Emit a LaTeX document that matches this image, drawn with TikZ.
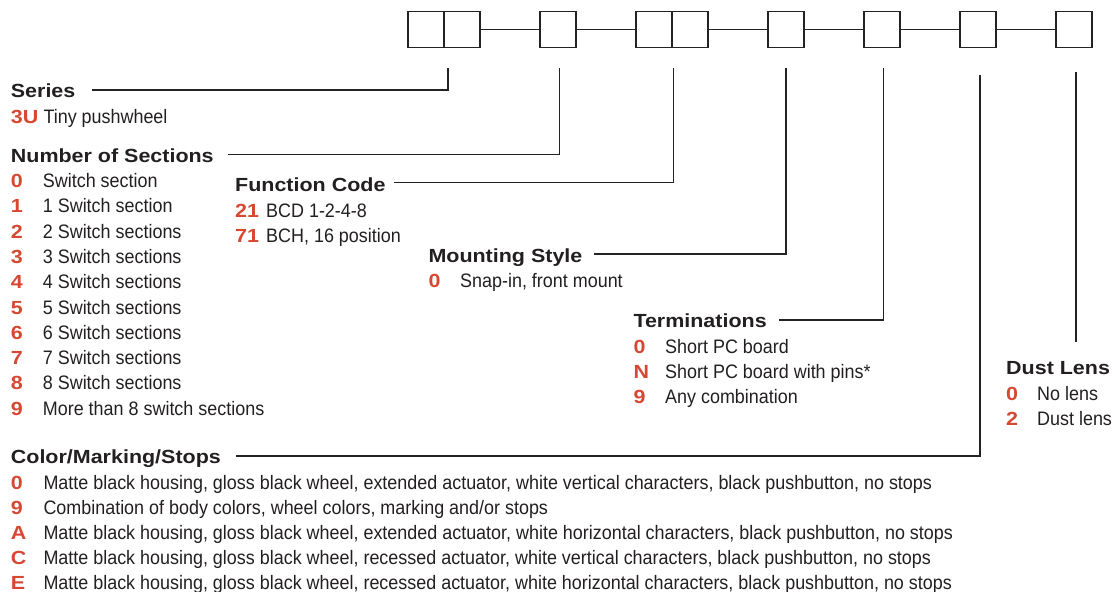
\documentclass[tikz,border=0pt]{standalone}
\usepackage{fontspec}
\setmainfont{Liberation Sans}[FakeStretch=0.92]
\newfontfamily\headfont{Liberation Sans}[FakeStretch=1.13]
\definecolor{codered}{RGB}{214,72,50}
\definecolor{ink}{RGB}{35,31,32}
\definecolor{rule}{RGB}{35,35,35}
\begin{document}
\begin{tikzpicture}[x=1pt,y=-1pt,
  cell/.style={draw=rule,line width=1.5pt,minimum width=36pt,minimum height=36pt,inner sep=0pt,outer sep=0pt},
  link/.style={draw=rule,line width=1.4pt},
  lead/.style={draw=rule,line width=1.4pt},
  head/.style={anchor=base west,inner sep=0pt,text=ink,font=\headfont\bfseries\fontsize{19}{22}\selectfont},
  code/.style={anchor=base west,inner sep=0pt,text=codered,font=\headfont\bfseries\fontsize{19}{22}\selectfont},
  desc/.style={anchor=base west,inner sep=0pt,text=ink,font=\fontsize{19.5}{22}\selectfont}]
\useasboundingbox (0,0) rectangle (1112,592);
% boxes
\node[cell] (b1) at (426,29.7) {};
\node[cell] (b2) at (462,29.7) {};
\node[cell] (b3) at (558,29.7) {};
\node[cell] (b4) at (654,29.7) {};
\node[cell] (b5) at (690,29.7) {};
\node[cell] (b6) at (786,29.7) {};
\node[cell] (b7) at (882,29.7) {};
\node[cell] (b8) at (978,29.7) {};
\node[cell] (b9) at (1074,29.7) {};
\draw[link] (b2.east) -- (b3.west);
\draw[link] (b3.east) -- (b4.west);
\draw[link] (b5.east) -- (b6.west);
\draw[link] (b6.east) -- (b7.west);
\draw[link] (b7.east) -- (b8.west);
\draw[link] (b8.east) -- (b9.west);
% Series
\node[head] (hser) at (10.7,97.3) {Series};
\node[code] (c3u) at (10.7,123.3) {3U};
\node[desc] (d3u) at (43.3,123.3) {Tiny pushwheel};
\coordinate (sA) at (92,90); \coordinate (sB) at (448,68);
\draw[lead] (sA) -| (sB);
% Number of sections
\node[head] (hsec) at (10.7,162.7) {Number of Sections};
\foreach \c/\t [count=\i from 0] in {0/Switch section,1/1 Switch section,2/2 Switch sections,3/3 Switch sections,4/4 Switch sections,5/5 Switch sections,6/6 Switch sections,7/7 Switch sections,8/8 Switch sections,9/More than 8 switch sections}{
  \node[code] (nc\i) at (10.7,187.5+25.3*\i) {\c};
  \node[desc] (nd\i) at (42.7,187.5+25.3*\i) {\t};
}
\coordinate (nA) at (228,154.3); \coordinate (nB) at (559.7,68);
\draw[lead] (nA) -| (nB);
% Function code
\node[head] (hfun) at (235,191.7) {Function Code};
\node[code] (f21) at (235,217.3) {21};
\node[desc] (fd21) at (266,217.3) {BCD 1-2-4-8};
\node[code] (f71) at (235,242.6) {71};
\node[desc] (fd71) at (266,242.6) {BCH, 16 position};
\coordinate (fA) at (394.3,182.3); \coordinate (fB) at (673.3,68);
\draw[lead] (fA) -| (fB);
% Mounting style
\node[head] (hmnt) at (428.3,262.7) {Mounting Style};
\node[code] (m0) at (428.3,287.7) {0};
\node[desc] (md0) at (460,287.7) {Snap-in, front mount};
\coordinate (mA) at (594,254); \coordinate (mB) at (786,68);
\draw[lead] (mA) -| (mB);
% Terminations
\node[head] (hter) at (633.3,327.7) {Terminations};
\node[code] (t0) at (633.3,353.3) {0};
\node[desc] (td0) at (665,353.3) {Short PC board};
\node[code] (tN) at (633.3,378.6) {N};
\node[desc] (tdN) at (665,378.6) {Short PC board with pins*};
\node[code] (t9) at (633.3,403.9) {9};
\node[desc] (td9) at (665,403.9) {Any combination};
\coordinate (tA) at (779,320); \coordinate (tB) at (883.7,68);
\draw[lead] (tA) -| (tB);
% Dust lens
\node[head] (hdust) at (1006,374) {Dust Lens};
\node[code] (u0) at (1006,400) {0};
\node[desc] (ud0) at (1037,400) {No lens};
\node[code] (u2) at (1006,425) {2};
\node[desc] (ud2) at (1037,425) {Dust lens};
\coordinate (uA) at (1076,342); \coordinate (uB) at (1076,72);
\draw[lead] (uA) -- (uB);
% Color/Marking/Stops
\node[head] (hcol) at (10.7,463.3) {Color/Marking/Stops};
\coordinate (kA) at (236,456); \coordinate (kB) at (980,75);
\draw[lead] (kA) -| (kB);
\foreach \c/\t [count=\i from 0] in {
  0/{Matte black housing, gloss black wheel, extended actuator, white vertical characters, black pushbutton, no stops},
  9/{Combination of body colors, wheel colors, marking and/or stops},
  A/{Matte black housing, gloss black wheel, extended actuator, white horizontal characters, black pushbutton, no stops},
  C/{Matte black housing, gloss black wheel, recessed actuator, white vertical characters, black pushbutton, no stops},
  E/{Matte black housing, gloss black wheel, recessed actuator, white horizontal characters, black pushbutton, no stops}}{
  \node[code] (kc\i) at (10.7,489+25*\i) {\c};
  \node[desc] (kd\i) at (43.3,489+25*\i) {\t};
}
\end{tikzpicture}
\end{document}
